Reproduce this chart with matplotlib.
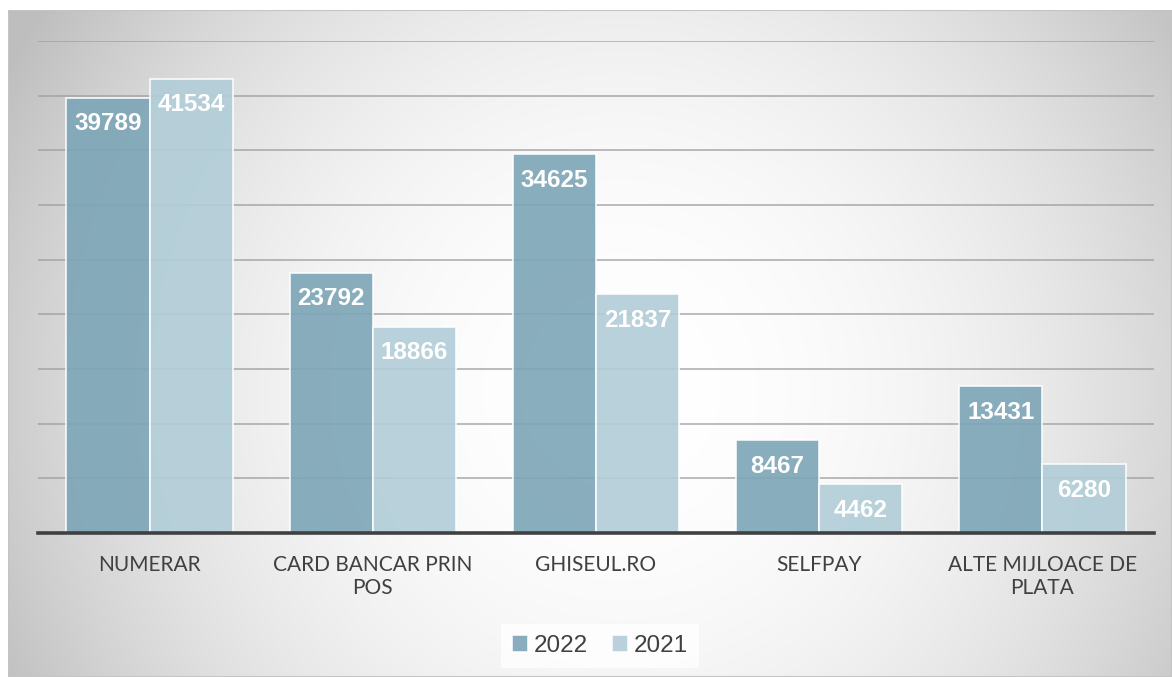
import numpy as np
import matplotlib
matplotlib.use("Agg")
import matplotlib.pyplot as plt
from matplotlib.patches import Rectangle

categories = ["NUMERAR", "CARD BANCAR PRIN\nPOS", "GHISEUL.RO", "SELFPAY", "ALTE MIJLOACE DE\nPLATA"]
series_names = ["2022", "2021"]
values_2022 = [39789, 23792, 34625, 8467, 13431]
values_2021 = [41534, 18866, 21837, 4462, 6280]

W, H = 1172, 677
fig = plt.figure(figsize=(W / 100, H / 100), dpi=100)
fig.patch.set_facecolor("white")

# background radial gradient of chart area
x0, y0 = 8, 10  # chart area top-left in pixels
bg = fig.add_axes([x0 / W, 0, 1 - x0 / W, 1 - y0 / H], zorder=-10)
yy, xx = np.mgrid[y0:H, x0:W]
cx, cy = 620, 390
d = np.hypot(xx - cx, yy - cy)
drop = 45 * (d / 585.0) ** 2.15
g = np.clip(255 - drop, 190, 255) / 255.0
img = np.dstack([g, g, g])
bg.imshow(img, aspect="auto", extent=[0, 1, 0, 1], interpolation="bilinear")
bg.set_xlim(0, 1)
bg.set_ylim(0, 1)
bg.axis("off")
bg.add_patch(Rectangle((0, 0), 1, 1, transform=bg.transAxes, fill=False,
                       edgecolor="#c4c4c4", linewidth=1.5))

left, right = 38, 1154
top, base = 41, 533
ax = fig.add_axes([left / W, 1 - base / H, (right - left) / W, (base - top) / H])
ax.set_facecolor("none")

x = np.arange(len(categories))
bw = 0.373
c22 = (124 / 255, 165 / 255, 182 / 255)
c21 = (177 / 255, 205 / 255, 216 / 255)
b1 = ax.bar(x - bw / 2, values_2022, bw, color=c22, alpha=0.9,
            edgecolor=(1, 1, 1, 0.6), linewidth=1.2, label=series_names[0], zorder=3)
b2 = ax.bar(x + bw / 2, values_2021, bw, color=c21, alpha=0.9,
            edgecolor=(1, 1, 1, 0.6), linewidth=1.2, label=series_names[1], zorder=3)

for bars, vals in ((b1, values_2022), (b2, values_2021)):
    for rect, v in zip(bars, vals):
        ax.annotate(f"{v}", (rect.get_x() + rect.get_width() / 2, v),
                    xytext=(0, -26), textcoords="offset pixels",
                    ha="center", va="center", color="white",
                    fontsize=17.5, fontweight="bold", family="Liberation Sans", zorder=5)

ax.set_xlim(-0.5, len(categories) - 0.5)
ax.set_ylim(0, 45000)
ax.set_yticks(np.arange(5000, 45001, 5000))
ax.yaxis.grid(True, color="#9e9e9e", linewidth=1.3, alpha=0.75, zorder=1)
ax.set_axisbelow(True)
ax.tick_params(axis="y", length=0, labelleft=False)
for s in ("top", "right", "left"):
    ax.spines[s].set_visible(False)
ax.spines["bottom"].set_color("#404040")
ax.spines["bottom"].set_linewidth(2.6)
ax.spines["bottom"].set_zorder(6)

ax.set_xticks(x)
ax.set_xticklabels(categories, fontsize=15, family="Lato", color="#404040",
                   linespacing=1.2)
ax.tick_params(axis="x", length=0, pad=16)

leg = ax.legend(loc="center", bbox_to_anchor=(600 / W, 1 - 646 / H),
                bbox_transform=fig.transFigure, ncol=2, frameon=True,
                prop={"family": "Liberation Sans", "size": 17.5},
                handlelength=0.65, handleheight=0.65, handletextpad=0.25,
                columnspacing=1.0, borderpad=0.45, labelcolor="#404040")
leg.get_frame().set_facecolor((1, 1, 1, 0.2))
leg.get_frame().set_edgecolor("none")
leg.get_frame().set_boxstyle("square", pad=0.0)

fig.savefig("out.png", dpi=100)
